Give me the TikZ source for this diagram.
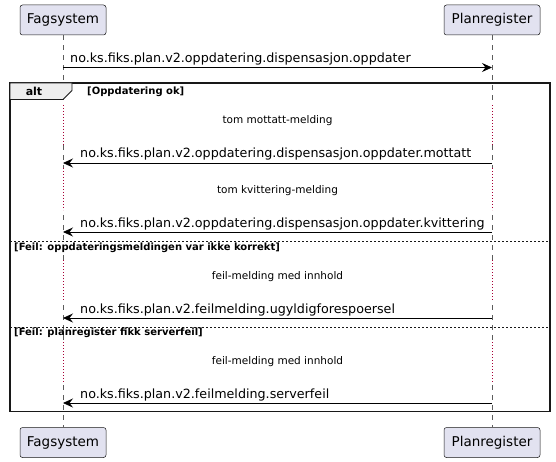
\documentclass[tikz,border=0pt]{standalone}
\usepackage{fontspec}
\setmainfont{DejaVu Sans}
\usetikzlibrary{positioning, calc, arrows.meta}
\definecolor{partfill}{HTML}{E2E2F0}
\definecolor{partline}{HTML}{181818}
\definecolor{delayred}{HTML}{A80036}
\definecolor{tabfill}{HTML}{EEEEEE}
\tikzstyle{Part} = [
draw=partline, fill=partfill,
rounded corners=2.5pt, line width=0.5pt,
minimum height=30pt,
font=\fontsize{13.5}{13.5}\selectfont]
\tikzstyle{Msg} = [
line width=0.8pt,
-{Stealth[length=10pt, width=9pt, inset=3.5pt]}]
\tikzstyle{MsgText} = [anchor=base west, inner sep=0pt,
font=\fontsize{12.7}{12.7}\selectfont]
\tikzstyle{DelayText} = [inner sep=0pt, font=\fontsize{10.5}{10.5}\selectfont]
\tikzstyle{Guard} = [anchor=west, inner sep=0pt,
font=\bfseries\fontsize{10}{10}\selectfont]
\tikzstyle{Life} = [draw=partline!70, line width=0.5pt,
dash pattern=on 5pt off 5pt]
\tikzstyle{LifeDelay} = [draw=delayred, line width=0.7pt,
dash pattern=on 0.8pt off 2.2pt]
\tikzstyle{Frame} = [draw=partline, line width=1.5pt]
\tikzstyle{Else} = [draw=partline, line width=0.6pt,
dash pattern=on 2pt off 2pt]

\begin{document}
\begin{tikzpicture}[x=1pt, y=-1pt]
    \useasboundingbox (0,0) rectangle (556,462);

    \node [Part, minimum width=86pt] (fagTop) at (63,20) {Fagsystem};
    \node [Part, minimum width=96pt] (planTop) at (492,20) {Planregister};
    \node [Part, minimum width=86pt] (fagBot) at (63,442.5) {Fagsystem};
    \node [Part, minimum width=96pt] (planBot) at (492,442.5) {Planregister};

    % lifelines, dotted where the delays are
    \draw[Life] (fagTop) -- (fagBot);
    \draw[Life] (planTop) -- (planBot);
    \foreach \a/\b in {105/145, 168/210, 260/300, 342/383}{
        \draw[white, line width=1.5pt] (fagTop.south |- 0,\a) -- (fagTop.south |- 0,\b);
        \draw[white, line width=1.5pt] (planTop.south |- 0,\a) -- (planTop.south |- 0,\b);
        \draw[LifeDelay] (fagTop.south |- 0,\a) -- (fagTop.south |- 0,\b);
        \draw[LifeDelay] (planTop.south |- 0,\a) -- (planTop.south |- 0,\b);
    }

    % alt frame
    \draw[Frame] (10,83) rectangle (550,411.5);
    \filldraw[fill=tabfill, draw=partline, line width=0.8pt]
        (10,83) -- (72,83) -- (72,90.5) -- (63,99.5) -- (10,99.5) -- cycle;
    \node [inner sep=0pt, font=\bfseries\fontsize{11}{11}\selectfont] (alt) at (34,91.5) {alt};
    \node [Guard] (g1) at (87,91.5) {[Oppdatering ok]};
    \draw[Else] (10,241) -- (550,241);
    \node [Guard] (g2) at (14,247.5) {[Feil: oppdateringsmeldingen var ikke korrekt]};
    \draw[Else] (10,327) -- (550,327);
    \node [Guard] (g3) at (14,332.5) {[Feil: planregister fikk serverfeil]};

    % messages
    \node [MsgText] (m1) at (70,63) {no.ks.fiks.plan.v2.oppdatering.dispensasjon.oppdater};
    \draw[Msg] (fagTop.south |- 0,67.5) -- (planTop.south |- 0,67.5);

    \node [DelayText] (d1) at (277.5,121) {tom mottatt-melding};
    \node [MsgText] (m2) at (80,158) {no.ks.fiks.plan.v2.oppdatering.dispensasjon.oppdater.mottatt};
    \draw[Msg] (planTop.south |- 0,163) -- (fagTop.south |- 0,163);

    \node [DelayText] (d2) at (277.5,191) {tom kvittering-melding};
    \node [MsgText] (m3) at (80,227) {no.ks.fiks.plan.v2.oppdatering.dispensasjon.oppdater.kvittering};
    \draw[Msg] (planTop.south |- 0,232) -- (fagTop.south |- 0,232);

    \node [DelayText] (d3) at (277.5,277) {feil-melding med innhold};
    \node [MsgText] (m4) at (80,313) {no.ks.fiks.plan.v2.feilmelding.ugyldigforespoersel};
    \draw[Msg] (planTop.south |- 0,318) -- (fagTop.south |- 0,318);

    \node [DelayText] (d4) at (277.5,362) {feil-melding med innhold};
    \node [MsgText] (m5) at (80,398) {no.ks.fiks.plan.v2.feilmelding.serverfeil};
    \draw[Msg] (planTop.south |- 0,403) -- (fagTop.south |- 0,403);
\end{tikzpicture}
\end{document}
